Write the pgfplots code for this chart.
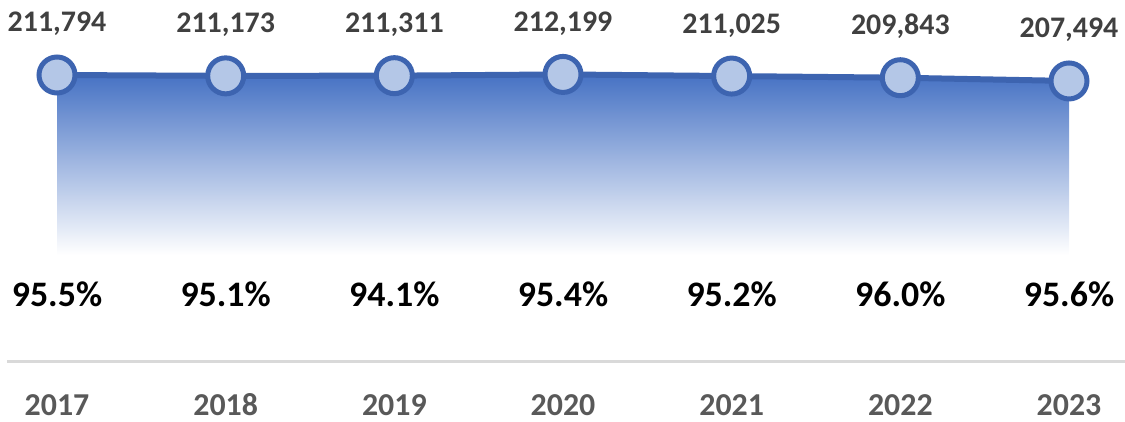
\documentclass[border=0pt]{standalone}
\usepackage{pgfplots}
\pgfplotsset{compat=1.18}
\usepackage{pgfplotstable}
\usepackage{fontspec}
\setmainfont{Carlito}
\definecolor{lineblue}{RGB}{61,100,176}
\definecolor{areablue}{RGB}{70,114,196}
\definecolor{markfill}{RGB}{180,199,231}
\definecolor{valgray}{RGB}{64,64,64}
\definecolor{yeargray}{RGB}{89,89,89}
\definecolor{rulegray}{RGB}{217,217,217}

\pgfplotstableread{
x y label
0 211794 {211,794}
1 211173 {211,173}
2 211311 {211,311}
3 212199 {212,199}
4 211025 {211,025}
5 209843 {209,843}
6 207494 {207,494}
}\valdata

\tikzset{pct/.style={anchor=base, inner sep=0pt, font=\fontsize{36}{40}\selectfont\bfseries},
         yr/.style={anchor=base, inner sep=0pt, text=yeargray, font=\fontsize{32}{36}\selectfont\bfseries}}

\begin{document}
\begin{tikzpicture}
\begin{axis}[
  at={(0,0)}, anchor=south west,
  scale only axis, width=1125bp, height=422bp,
  xmin=-0.338, xmax=6.332,
  ymin=-38046, ymax=265794,
  hide axis, clip=false,
]
% gradient area
\addplot[draw=none, top color=areablue, bottom color=white]
  coordinates {(0,82194) (0,211794) (1,211173) (2,211311) (3,212199) (4,211025) (5,209843) (6,207494) (6,82194)} -- cycle;
% line with markers and value labels
\addplot[lineblue, line width=6bp, mark=*, mark size=18bp,
  mark options={fill=markfill, draw=lineblue, line width=5bp},
  point meta=explicit symbolic,
  nodes near coords,
  every node near coord/.style={anchor=base, yshift=43bp, font=\fontsize{30}{34}\selectfont\bfseries, text=valgray, inner sep=0pt},
] table[x=x, y=y, meta=label] {\valdata};
% separator rule
\draw[rulegray, line width=3bp] (axis cs:-0.295,5514) -- (axis cs:6.332,5514);
% percentages
\node[pct] at (axis cs:0,44754) {95.5\%};
\node[pct] at (axis cs:1,44754) {95.1\%};
\node[pct] at (axis cs:2,44754) {94.1\%};
\node[pct] at (axis cs:3,44754) {95.4\%};
\node[pct] at (axis cs:4,44754) {95.2\%};
\node[pct] at (axis cs:5,44754) {96.0\%};
\node[pct] at (axis cs:6,44754) {95.6\%};
% years
\node[yr] at (axis cs:0,-33006) {2017};
\node[yr] at (axis cs:1,-33006) {2018};
\node[yr] at (axis cs:2,-33006) {2019};
\node[yr] at (axis cs:3,-33006) {2020};
\node[yr] at (axis cs:4,-33006) {2021};
\node[yr] at (axis cs:5,-33006) {2022};
\node[yr] at (axis cs:6,-33006) {2023};
\end{axis}
\pgfresetboundingbox
\path[use as bounding box] (0,0) rectangle (1125bp,422bp);
\end{tikzpicture}
\end{document}
